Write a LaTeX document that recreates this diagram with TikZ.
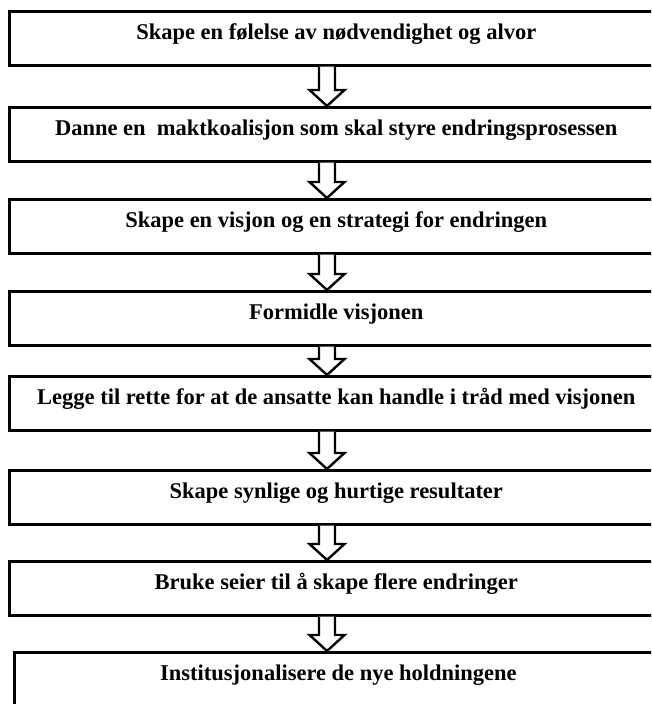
\documentclass[tikz,border=0pt]{standalone}
\usepackage{fontspec}
\setmainfont{Liberation Serif}
\usetikzlibrary{positioning}

\begin{document}
\begin{tikzpicture}
% Style
[
    x=1pt, y=1pt,
    box/.style={
        draw, shape=rectangle, line width=2.6pt, anchor=north west,
        minimum width=654pt, inner sep=0pt, align=center,
        font=\fontsize{22.5}{26}\selectfont\bfseries,
        text height=28pt, text depth=26pt
    },
    fat arrow/.style={
        draw, fill=white, line width=2.4pt, line join=miter,
        to path={
            ([xshift=-8pt]\tikztostart) -- ([xshift=-8pt, yshift=16pt]\tikztotarget)
            -- ([xshift=-17.5pt, yshift=16pt]\tikztotarget) -- (\tikztotarget)
            -- ([xshift=17.5pt, yshift=16pt]\tikztotarget) -- ([xshift=8pt, yshift=16pt]\tikztotarget)
            -- ([xshift=8pt]\tikztostart)
        }
    }
]
\clip (0,0) rectangle (651,704);
\fill[white] (0,0) rectangle (651,704);

%=================================== Start ===================================
{
    \foreach \x/\y/\t [count=\i] in {
        8/694/Skape en følelse av nødvendighet og alvor,
        8/598/Danne en\ \ maktkoalisjon som skal styre endringsprosessen,
        8/506/Skape en visjon og en strategi for endringen,
        8/414/Formidle visjonen,
        8/329/Legge til rette for at de ansatte kan handle i tråd med visjonen,
        8/235/Skape synlige og hurtige resultater,
        8/144/Bruke seier til å skape flere endringer,
        13/53/Institusjonalisere de nye holdningene
    } {
        \node[box] (box-\i) at (\x,\y) {\t};
    }

    \coordinate (mid) at (327,0);
    \foreach \i [evaluate={\j=int(\i+1)}] in {1,...,7} {
        \draw[fat arrow] (mid |- box-\i.south) to (mid |- box-\j.north);
    }
}
%==================================== END ====================================

\end{tikzpicture}
\end{document}
